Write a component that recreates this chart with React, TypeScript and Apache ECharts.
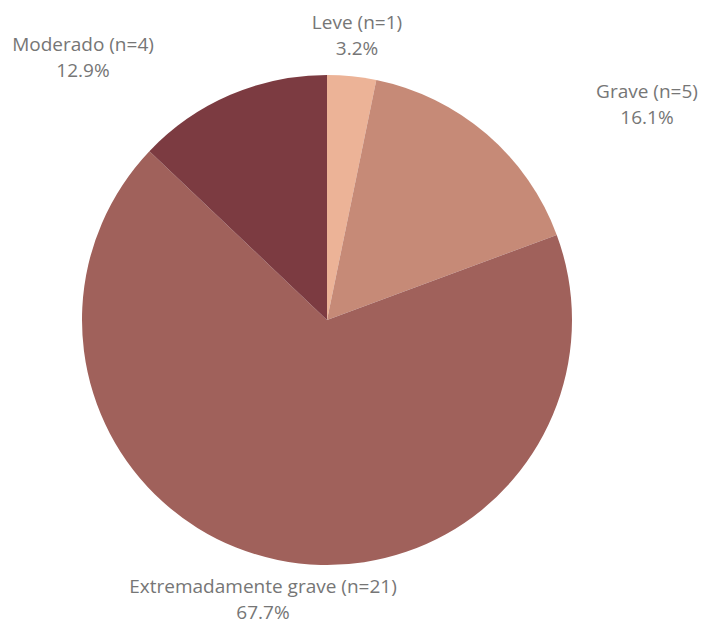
import React, { useEffect, useRef } from "react";
import * as echarts from "echarts";

const categories = ["Leve", "Grave", "Extremadamente grave", "Moderado"];
const counts = [1, 5, 21, 4];
const colors = ["#ecb397", "#c68a77", "#a0615b", "#7c3b41"];
// label anchor points (centre of text block), in px
const labelAnchors: [number, number][] = [
  [357, 35],
  [647, 104],
  [263, 599],
  [83, 57],
];

export default function App() {
  const ref = useRef<HTMLDivElement>(null);
  useEffect(() => {
    if (!ref.current) return;
    const chart = echarts.init(ref.current, null, { renderer: "svg" });
    const total = counts.reduce((a, b) => a + b, 0);
    chart.setOption({
      animation: false,
      backgroundColor: "#ffffff",
      series: [
        {
          type: "pie",
          center: [327, 320],
          radius: 245,
          startAngle: 90,
          clockwise: true,
          data: categories.map((name, i) => ({
            name,
            value: counts[i],
            itemStyle: { color: colors[i] },
          })),
          label: {
            show: true,
            position: "outside",
            formatter: (p: any) =>
              `${p.name} (n=${p.value})\n${((p.value / total) * 100).toFixed(1)}%`,
            fontFamily: "Open Sans",
            fontSize: 19,
            lineHeight: 26,
            color: "#767676",
            align: "center",
            overflow: "none",
            width: 400,
          },
          labelLine: { show: false },
          labelLayout: (params: any) => {
            const p = labelAnchors[params.dataIndex];
            return {
              x: p[0],
              y: p[1],
              align: "center",
              verticalAlign: "middle",
            };
          },
          emphasis: { disabled: true },
        },
      ],
    });
    return () => chart.dispose();
  }, []);
  return (
    <div
      ref={ref}
      style={{ position: "fixed", left: 0, top: 0, width: 702, height: 625 }}
    />
  );
}
